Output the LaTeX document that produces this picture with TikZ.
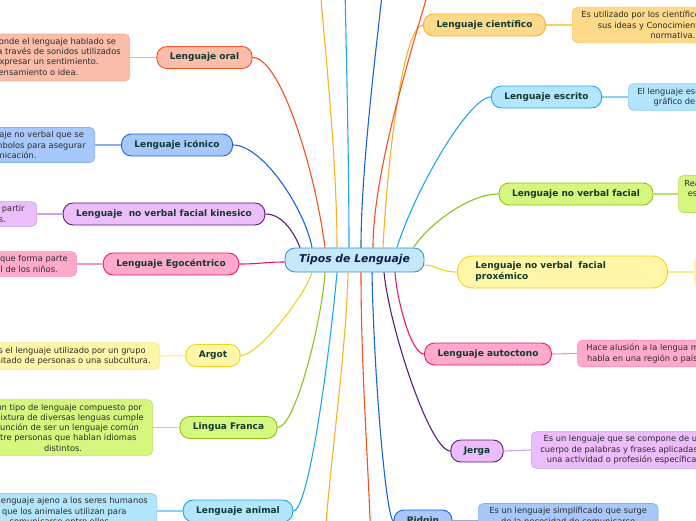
\documentclass[tikz,border=0pt]{standalone}
\usepackage{fontspec}
\setmainfont{DejaVu Sans}
\usetikzlibrary{calc}

\definecolor{salmonfill}{HTML}{F9BDA9}
\definecolor{salmonline}{HTML}{F4511E}
\definecolor{salmonsoft}{HTML}{F9AC92}
\definecolor{bluefill}{HTML}{A7C8FA}
\definecolor{blueline}{HTML}{1565D8}
\definecolor{bluesoft}{HTML}{85B1F3}
\definecolor{lavfill}{HTML}{EBBDFA}
\definecolor{lavline}{HTML}{5B1A77}
\definecolor{lavsoft}{HTML}{D0A0E8}
\definecolor{pinkfill}{HTML}{FFA9CD}
\definecolor{pinkline}{HTML}{F2136A}
\definecolor{pinksoft}{HTML}{FF90BE}
\definecolor{yelfill}{HTML}{FFF6A8}
\definecolor{yelline}{HTML}{F0D21A}
\definecolor{yelsoft}{HTML}{FBEA8E}
\definecolor{limefill}{HTML}{D5F77F}
\definecolor{limeline}{HTML}{8BC21C}
\definecolor{limesoft}{HTML}{BBE266}
\definecolor{skyfill}{HTML}{B3E5FC}
\definecolor{skyline}{HTML}{1BA9EC}
\definecolor{skysoft}{HTML}{86D2F6}
\definecolor{amberfill}{HTML}{FDD98A}
\definecolor{amberline}{HTML}{FBB124}
\definecolor{ambersoft}{HTML}{FBCB66}
\definecolor{rootfill}{HTML}{C6E8FB}
\definecolor{rootline}{HTML}{3D8FD6}
\definecolor{roottext}{HTML}{0C1E4A}
\definecolor{maintext}{HTML}{10392F}
\definecolor{notetext}{HTML}{2B2B2B}

\begin{document}
\begin{tikzpicture}[x=1pt, y=-1pt,
	main/.style={draw, rounded corners=10pt, line width=0.9pt, minimum height=22pt,
		inner xsep=13pt, inner ysep=2pt, text=maintext,
		font=\bfseries\fontsize{9}{10}\selectfont},
	note/.style={draw, rounded corners=5pt, line width=0.7pt, align=center,
		inner xsep=9pt, inner ysep=4pt, text=notetext,
		font=\fontsize{8.3}{10.3}\selectfont},
	fam/.style={fill=#1fill, draw=#1line},
	fam note/.style={fill=#1fill, draw=#1soft},
	fam link/.style={draw=#1line, line width=1.1pt},
	fam stub/.style={draw=#1soft, line width=1.1pt}]
	\useasboundingbox (0,0) rectangle (696,520);
	\clip (0,0) rectangle (696,520);

	\node[draw=rootline, fill=rootfill, rounded corners=10pt, line width=0.9pt,
		minimum width=139pt, minimum height=24pt, text=roottext,
		font=\bfseries\itshape\fontsize{10.8}{12}\selectfont] (tipos) at (354.5,260) {Tipos de Lenguaje};

		%left side
	\node[main, fam=salmon] (oral) at (204.5,57.5) {Lenguaje oral};
	\node[main, fam=blue] (iconico) at (177,145) {Lenguaje icónico};
	\node[main, fam=lav] (kinesico) at (164,214) {Lenguaje\ \ no verbal facial kinesico};
	\node[main, fam=pink] (ego) at (171,264) {Lenguaje Egocéntrico};
	\node[main, fam=yel] (argot) at (213,355.5) {Argot};
	\node[main, fam=lime] (lingua) at (228.5,427.5) {Lingua Franca};
	\node[main, fam=sky] (animal) at (238,511) {Lenguaje animal};

		%right side
	\node[main, fam=amber] (cientifico) at (484.5,25) {Lenguaje científico};
	\node[main, fam=sky] (escrito) at (546.5,97) {Lenguaje escrito};
	\node[main, fam=lime] (facial) at (576,194) {Lenguaje no verbal facial};
	\node[main, fam=yel, anchor=west, text width=174pt, align=left, minimum height=32pt,
		rounded corners=15pt, inner xsep=18pt,
		font=\bfseries\fontsize{9}{11}\selectfont] (proxemico) at (457,272) {Lenguaje no verbal\ \ facial\\proxémico};
	\node[main, fam=pink] (autoctono) at (488,354) {Lenguaje autoctono};
	\node[main, fam=lav] (jerga) at (477,451) {Jerga};
	\node[main, fam=blue] (pidgin) at (423,521) {Pidgin};

		%notes
	\node[note, fam note=salmon, anchor=east] (oralnote) at (130,57.5) {Es aquel donde el lenguaje hablado se\\manifiesta a través de sonidos utilizados\\para expresar un sentimiento.\\pensamiento o idea.};
	\node[note, fam note=blue, anchor=east] (iconiconote) at (95,145) {Es un tipo de lenguaje no verbal que se\\emplea signos y símbolos para asegurar\\la comunicación.};
	\node[note, fam note=lav, anchor=east, inner xsep=12pt] (kinesiconote) at (37,214) {Transmite emociones a partir\\de los movimientos.};
	\node[note, fam note=pink, anchor=east] (egonote) at (77,264) {Es un tipo de lenguaje que forma parte\\del desarrollo normal de los niños.};
	\node[note, fam note=yel, anchor=east] (argotnote) at (160,356) {Es el lenguaje utilizado por un grupo\\limitado de personas o una subcultura.};
	\node[note, fam note=lime, anchor=east] (linguanote) at (153,427.5) {Es un tipo de lenguaje compuesto por\\la mixtura de diversas lenguas cumple\\la función de ser un lenguaje común\\entre personas que hablan idiomas\\distintos.};
	\node[note, fam note=sky, anchor=east] (animalnote) at (157,511) {Es un lenguaje ajeno a los seres humanos\\y que los animales utilizan para\\comunicarse entre ellos.};
	\node[note, fam note=amber, anchor=west] (cientificonote) at (572,25) {Es utilizado por los científicos para expresar\\sus ideas y Conocimientos de forma\\normativa.};
	\node[note, fam note=sky, anchor=west] (escritonote) at (628,97) {El lenguaje escrito es un sistema\\gráfico de comunicación.};
	\node[note, fam note=lime, anchor=west, inner xsep=6pt] (facialnote) at (678,194) {Realizado a través de las\\estructuras del rostro y\\sus gestos.};
	\node[note, fam note=yel, anchor=west] (proxemiconote) at (694,272) {Estudia el uso del espacio\\entre las personas.};
	\node[note, fam note=pink, anchor=west] (autoctononote) at (577,353.5) {Hace alusión a la lengua materna que se\\habla en una región o país determinado.};
	\node[note, fam note=lav, anchor=west] (jerganote) at (531,450) {Es un lenguaje que se compone de un\\cuerpo de palabras y frases aplicadas a\\una actividad o profesión específica.};
	\node[note, fam note=blue, anchor=west, inner xsep=11pt] (pidginnote) at (478,521) {Es un lenguaje simplificado que surge\\de la necesidad de comunicarse\\entre hablantes distintos.};

		%free ends off the page
	\coordinate (upA) at (316,-60);
	\coordinate (upB) at (344,-60);
	\coordinate (upC) at (388,-60);
	\coordinate (upD) at (444,-60);
	\coordinate (downA) at (322,580);
	\coordinate (downB) at (372,580);

		%links to the root
	\draw[fam link=salmon] (oral.east) .. controls +(28,0) and +(-10,-78) .. ($(tipos.north)+(-29.5,0)$);
	\draw[fam link=blue] (iconico.east) .. controls +(30,0) and +(-7,-38) .. ($(tipos.north)+(-42.5,0)$);
	\draw[fam link=lav] (kinesico.east) .. controls +(18,0) and +(-5,-13) .. ($(tipos.north)+(-54.5,0)$);
	\draw[fam link=pink] (ego.east) .. controls +(22,0) and +(-20,0) .. ($(tipos.west)+(0,2)$);
	\draw[fam link=yel] (argot.east) .. controls +(18,0) and +(-7,23) .. ($(tipos.south)+(-42.5,0)$);
	\draw[fam link=lime] (lingua.east) .. controls +(18,0) and +(-3,48) .. ($(tipos.south)+(-29.5,0)$);
	\draw[fam link=sky] (animal.east) .. controls +(17,0) and +(-5,58) .. ($(tipos.south)+(-17.5,0)$);
	\draw[fam link=blue] (pidgin.west) .. controls +(-7,0) and +(2,108) .. ($(tipos.south)+(17.5,0)$);
	\draw[fam link=lav] (jerga.west) .. controls +(-20,0) and +(6,58) .. ($(tipos.south)+(29.5,0)$);
	\draw[fam link=pink] (autoctono.west) .. controls +(-13,0) and +(2,28) .. ($(tipos.south)+(40.5,0)$);
	\draw[fam link=yel] (proxemico.west) .. controls +(-17,0) and +(11,0) .. ($(tipos.east)+(0,5)$);
	\draw[fam link=lime] (facial.west) .. controls +(-30,0) and +(15,-23) .. ($(tipos.north)+(59,0)$);
	\draw[fam link=sky] (escrito.west) .. controls +(-22,0) and +(18,-58) .. ($(tipos.north)+(42.5,0)$);
	\draw[fam link=amber] (cientifico.west) .. controls +(-19,0) and +(5,-98) .. ($(tipos.north)+(28.5,0)$);
	\draw[fam link=amber] ($(tipos.north)+(-17.5,0)$) .. controls +(0,-100) and +(4,60) .. (upA);
	\draw[fam link=sky] ($(tipos.north)+(-5.5,0)$) .. controls +(0,-100) and +(1,60) .. (upB);
	\draw[fam link=blue] ($(tipos.north)+(6.5,0)$) .. controls +(0,-88) and +(-8,80) .. (upC);
	\draw[fam link=salmon] ($(tipos.north)+(18.5,0)$) .. controls +(0,-78) and +(-30,100) .. (upD);
	\draw[fam link=amber] ($(tipos.south)+(-6.5,0)$) .. controls +(-2,88) and +(5,-100) .. (downA);
	\draw[fam link=salmon] ($(tipos.south)+(6.5,0)$) .. controls +(0,108) and +(-2,-100) .. (downB);

		%short links to the notes
	\draw[fam stub=salmon] (oral.west) -- (oralnote.east);
	\draw[fam stub=blue] (iconico.west) -- (iconiconote.east);
	\draw[fam stub=lav] (kinesico.west) -- (kinesiconote.east);
	\draw[fam stub=pink] (ego.west) -- (egonote.east);
	\draw[fam stub=yel] (argot.west) -- (argotnote.east);
	\draw[fam stub=lime] (lingua.west) -- (linguanote.east);
	\draw[fam stub=sky] (animal.west) -- (animalnote.east);
	\draw[fam stub=amber] (cientifico.east) -- (cientificonote.west);
	\draw[fam stub=sky] (escrito.east) -- (escritonote.west);
	\draw[fam stub=lime] (facial.east) -- (facialnote.west);
	\draw[fam stub=yel] (proxemico.east) -- (proxemiconote.west);
	\draw[fam stub=pink] (autoctono.east) -- (autoctononote.west);
	\draw[fam stub=lav] (jerga.east) -- (jerganote.west);
	\draw[fam stub=blue] (pidgin.east) -- (pidginnote.west);
\end{tikzpicture}
\end{document}
